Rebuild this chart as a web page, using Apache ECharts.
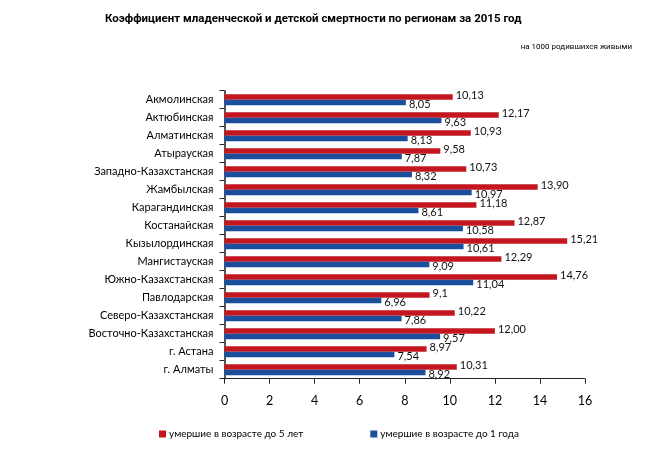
<!DOCTYPE html>
<html>
<head>
<meta charset="utf-8">
<script src="https://cdn.jsdelivr.net/npm/echarts@6/dist/echarts.min.js"></script>
<style>
html,body{margin:0;padding:0;background:#fff;}
#chart{width:659px;height:474px;}
</style>
</head>
<body>
<div id="chart"></div>
<script>
const categories = ['Акмолинская','Актюбинская','Алматинская','Атырауская','Западно-Казахстанская','Жамбылская','Карагандинская','Костанайская','Кызылординская','Мангистауская','Южно-Казахстанская','Павлодарская','Северо-Казахстанская','Восточно-Казахстанская','г. Астана','г. Алматы'];
const under5 = ['10.13','12.17','10.93','9.58','10.73','13.90','11.18','12.87','15.21','12.29','14.76','9.1','10.22','12.00','8.97','10.31'];
const under1 = ['8.05','9.63','8.13','7.87','8.32','10.97','8.61','10.58','10.61','9.09','11.04','6.96','7.86','9.57','7.54','8.92'];
const xTicks = [0,2,4,6,8,10,12,14,16];
const seriesNames = ['умершие в возрасте до 5 лет','умершие в возрасте до 1 года'];

const chart = echarts.init(document.getElementById('chart'));
const fmt = p => String(p.data).replace('.', ',');
chart.setOption({
  animation:false,
  textStyle:{fontFamily:'Lato'},
  title:[
    {text:'Коэффициент младенческой и детской смертности по регионам за 2015 год', left:100, top:8,
     textStyle:{fontFamily:'Roboto', fontWeight:'bold', fontSize:11.5, color:'#000'}},
    {text:'на 1000 родившихся живыми', right:22, top:38,
     textStyle:{fontFamily:'Roboto', fontWeight:'normal', fontSize:8, color:'#000'}}
  ],
  legend:{
    left:154, top:424, itemWidth:7, itemHeight:7, itemGap:67, icon:'rect',
    textStyle:{fontSize:10, color:'#000', fontFamily:'Lato', padding:[0,0,0,-2]},
    data:seriesNames
  },
  grid:{left:224.5, right:74, top:90.7, bottom:95.3, containLabel:false},
  xAxis:{
    type:'value', min:0, max:16, interval:2,
    axisLine:{show:true, lineStyle:{color:'#222', width:1}},
    axisTick:{show:true, length:5, lineStyle:{color:'#222'}},
    splitLine:{show:false},
    axisLabel:{margin:16, fontSize:12.5, color:'#000', fontFamily:'Lato',
      formatter:v => xTicks.includes(v) ? String(v) : ''}
  },
  yAxis:{
    type:'category', data:categories, inverse:true,
    axisLine:{show:true, lineStyle:{color:'#222', width:1.5}},
    axisTick:{show:true, length:5, lineStyle:{color:'#222'}},
    axisLabel:{margin:11, fontSize:11, color:'#000', fontFamily:'Lato'}
  },
  series:[
    {name:seriesNames[0], type:'bar', data:under5, barWidth:5.5, barGap:'0%',
     itemStyle:{color:'#C3161F'},
     label:{show:true, position:'right', distance:3, offset:[0,-1], formatter:fmt, fontSize:11, color:'#111', fontFamily:'Lato'}},
    {name:seriesNames[1], type:'bar', data:under1, barWidth:5.5, barGap:'0%',
     itemStyle:{color:'#1B4F9E'},
     label:{show:true, position:'right', distance:3, offset:[0,2], formatter:fmt, fontSize:11, color:'#111', fontFamily:'Lato'}}
  ]
});
</script>
</body>
</html>
